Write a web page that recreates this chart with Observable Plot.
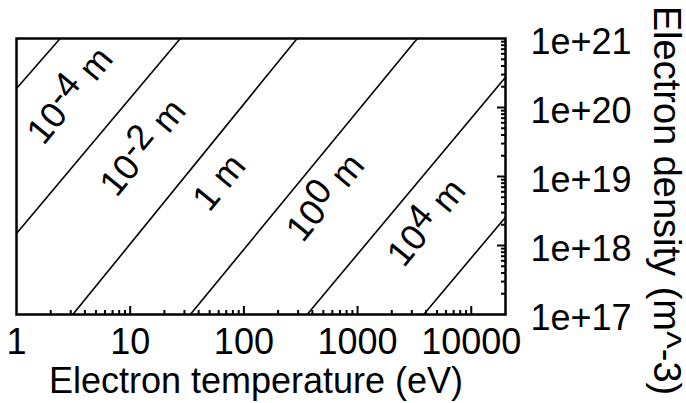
<!DOCTYPE html>
<html>
<head>
<meta charset="utf-8">
<script src="https://cdn.jsdelivr.net/npm/d3@7"></script>
<script src="https://cdn.jsdelivr.net/npm/@observablehq/plot@0.6"></script>
<style>
  html, body { margin: 0; padding: 0; background: #fff; }
</style>
</head>
<body>
<div id="chart"></div>
<script>
// Axis domains and tick labels
const xDomain = [1, 2e4];
const yDomain = [1e17, 1e21];
const xTickValues = [1, 10, 100, 1000, 10000];
const xTickLabels = ["1", "10", "100", "1000", "10000"];
const yTickValues = [1e17, 1e18, 1e19, 1e20, 1e21];
const yTickLabels = ["1e+17", "1e+18", "1e+19", "1e+20", "1e+21"];

// Contour lines of constant mean free path (endpoints)
const contourLambda = ["1e-4 m", "1e-2 m", "1 m", "100 m", "1e4 m", "1e6 m"];
const contourT1 = [1, 1, 3.13, 33.8, 360, 3813];
const contourN1 = [1.88e20, 1.49e18, 1e17, 1e17, 1e17, 1e17];
const contourT2 = [2.42, 27.6, 294, 3357, 20000, 20000];
const contourN2 = [1e21, 1e21, 1e21, 1e21, 2.75e20, 2.57e18];

// Contour labels
const labelBase = ["10", "10", "1", "100", "10"];
const labelSup = ["-4", "-2", "", "", "4"];
const labelT = [2.96, 13.0, 60.8, 522, 4055];
const labelN = [1.49e20, 2.63e19, 8.2e18, 4.96e18, 2.15e18];

const xTitle = "Electron temperature (eV)";
const yTitle = "Electron density (m^-3)";

const FONT = "'Liberation Sans', Arial, Helvetica, sans-serif";
const FS = 36;

const contours = contourLambda.map((l, i) => ({l, x1: contourT1[i], y1: contourN1[i], x2: contourT2[i], y2: contourN2[i]}));
const labels = labelBase.map((b, i) => ({text: b + labelSup[i] + " m", x: labelT[i], y: labelN[i]}));

const xAll = d3.scaleLog().domain(xDomain).ticks();
const yAll = d3.scaleLog().domain(yDomain).ticks();
const isMajor = v => Math.abs(Math.log10(v) - Math.round(Math.log10(v))) < 1e-9;
const xMinor = xAll.filter(v => !isMajor(v) && v < xDomain[1]);
const xMajor = xAll.filter(v => isMajor(v) && v > xDomain[0]);
const yMinor = yAll.filter(v => !isMajor(v));
const yMajor = yAll.filter(v => isMajor(v) && v > yDomain[0] && v < yDomain[1]);

const W = 686, H = 403;
const mL = 16, mR = 181, mT = 38, mB = 89;
const pw = W - mL - mR, ph = H - mT - mB;

const chart = Plot.plot({
  width: W,
  height: H,
  marginLeft: mL, marginRight: mR, marginTop: mT, marginBottom: mB,
  style: {background: "#fff", fontFamily: FONT, color: "#000"},
  x: {type: "log", domain: xDomain, axis: null},
  y: {type: "log", domain: yDomain, axis: null},
  marks: [
    // contour lines
    Plot.link(contours, {x1: "x1", y1: "y1", x2: "x2", y2: "y2", stroke: "#000", strokeWidth: 1.6}),
    // bottom ticks (inward)
    Plot.ruleX(xMinor, {x: d => d, insetTop: ph - 4, stroke: "#000", strokeWidth: 2}),
    Plot.ruleX(xMajor, {x: d => d, insetTop: ph - 8, stroke: "#000", strokeWidth: 2}),
    // right ticks (inward)
    Plot.ruleY(yMinor, {y: d => d, insetLeft: pw - 4, stroke: "#000", strokeWidth: 2}),
    Plot.ruleY(yMajor, {y: d => d, insetLeft: pw - 8, stroke: "#000", strokeWidth: 2}),
    Plot.frame({stroke: "#000", strokeWidth: 2.5}),
    // contour labels
    Plot.text(labels, {x: "x", y: "y", text: "text", rotate: -50.6, fontSize: FS, fill: "#000", textAnchor: "middle", lineAnchor: "middle"}),
    // x tick labels
    Plot.text(xTickValues, {x: d => d, text: (d, i) => xTickLabels[i], frameAnchor: "bottom", dy: 39, lineAnchor: "bottom", textAnchor: "middle", fontSize: FS, fill: "#000"}),
    // y tick labels (right side)
    Plot.text(yTickValues, {y: d => d, text: (d, i) => yTickLabels[i], frameAnchor: "right", dx: 25, dy: 4, textAnchor: "start", lineAnchor: "middle", fontSize: FS, fill: "#000"}),
    // x title
    Plot.text([xTitle], {text: d => d, frameAnchor: "bottom", dy: 78, dx: -5, lineAnchor: "bottom", textAnchor: "middle", fontSize: FS, fill: "#000"}),
    // y title
    Plot.text([yTitle], {text: d => d, frameAnchor: "right", dx: 148, dy: 24, rotate: 90, lineAnchor: "bottom", textAnchor: "middle", fontSize: 38, fill: "#000"})
  ]
});

// render superscripts for contour labels
chart.querySelectorAll("text").forEach(t => {
  const m = /^(10)(-?\d) m$/.exec(t.textContent);
  if (!m) return;
  t.textContent = "";
  const ns = "http://www.w3.org/2000/svg";
  const a = document.createElementNS(ns, "tspan"); a.textContent = m[1];
  const b = document.createElementNS(ns, "tspan"); b.textContent = m[2]; b.setAttribute("dy", "-0.25em");
  const c = document.createElementNS(ns, "tspan"); c.textContent = " m"; c.setAttribute("dy", "0.25em");
  t.append(a, b, c);
});

document.getElementById("chart").appendChild(chart);
</script>
</body>
</html>
